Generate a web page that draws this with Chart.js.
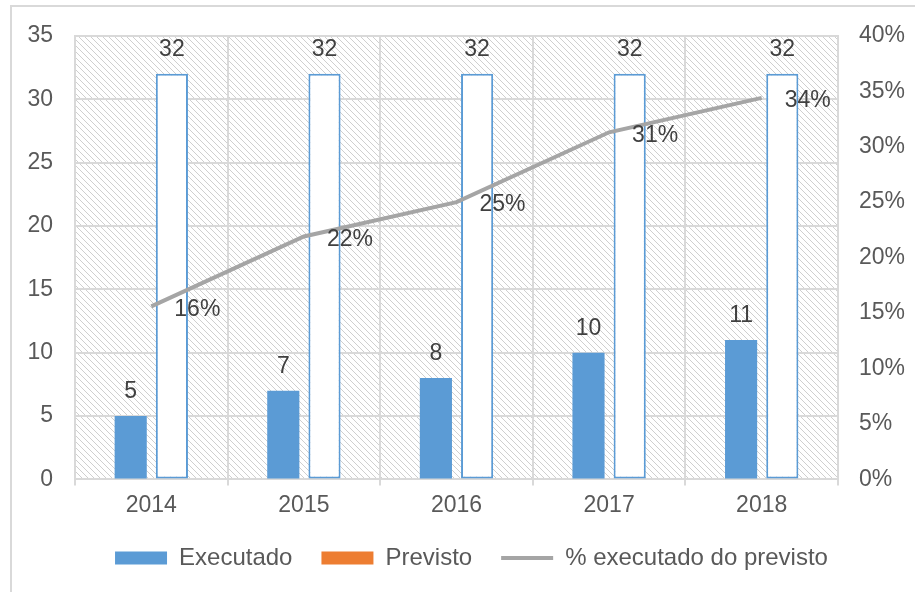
<!DOCTYPE html>
<html lang="pt">
  <head>
    <meta charset="utf-8" />
    <title>Executado vs Previsto</title>
    <style>
      * {
        margin: 0;
        padding: 0;
      }
      body {
        background: #fff;
        overflow: hidden;
        width: 915px;
        height: 592px;
        position: relative;
      }
      .frame {
        position: absolute;
        left: 10px;
        top: 5px;
        width: 1000px;
        height: 700px;
        border-left: 2px solid #d9d9d9;
        border-top: 2px solid #d9d9d9;
      }
      canvas {
        position: absolute;
        left: 0;
        top: -7px;
      }
    </style>
  </head>
  <body>
    <div class="frame">
      <canvas id="myChart" width="919" height="602"></canvas>
    </div>

    <script src="https://cdn.jsdelivr.net/npm/chart.js@4/dist/chart.umd.min.js"></script>

    <script>
      // data block
      const years = ["2014", "2015", "2016", "2017", "2018"];
      const executado = [5, 7, 8, 10, 11];
      const previsto = [32, 32, 32, 32, 32];
      const pctExecutado = [15.6, 21.9, 25, 31.3, 34.4];
      const leftTicks = [0, 5, 10, 15, 20, 25, 30, 35];
      const rightTicks = [0, 5, 10, 15, 20, 25, 30, 35, 40];

      const FONT = "'Liberation Sans', Arial, sans-serif";
      const gridColor = "#d9d9d9";

      // diagonal hatch for the plot area
      function hatchPattern(ctx) {
        const c = document.createElement("canvas");
        c.width = 6;
        c.height = 6;
        const g = c.getContext("2d");
        g.strokeStyle = "#cfcfcf";
        g.lineWidth = 1;
        g.beginPath();
        g.moveTo(-1, -1);
        g.lineTo(7, 7);
        g.moveTo(-1, 5);
        g.lineTo(1, 7);
        g.moveTo(5, -1);
        g.lineTo(7, 1);
        g.stroke();
        return ctx.createPattern(c, "repeat");
      }

      const plotBackground = {
        id: "plotBackground",
        beforeDraw(chart) {
          const { ctx, chartArea: { left, top, width, height } } = chart;
          ctx.save();
          ctx.fillStyle = "#fff";
          ctx.fillRect(left, top, width, height);
          ctx.fillStyle = hatchPattern(ctx);
          ctx.fillRect(left, top, width, height);
          ctx.restore();
        },
      };

      // value labels
      const valueLabels = {
        id: "valueLabels",
        afterDatasetsDraw(chart) {
          const { ctx } = chart;
          ctx.save();
          ctx.font = "23px " + FONT;
          ctx.fillStyle = "#404040";
          chart.data.datasets.forEach((ds, di) => {
            const meta = chart.getDatasetMeta(di);
            meta.data.forEach((el, i) => {
              const v = ds.data[i];
              if (ds.type === "line") {
                ctx.textAlign = "left";
                ctx.textBaseline = "middle";
                ctx.fillText(Math.round(v) + "%", el.x + 23, el.y + 3);
              } else {
                ctx.textAlign = "center";
                ctx.textBaseline = "middle";
                ctx.fillText(v, el.x, el.y - 24);
              }
            });
          });
          ctx.restore();
        },
      };

      const data = {
        labels: years,
        datasets: [
          {
            type: "bar",
            label: "Executado",
            data: executado,
            backgroundColor: "#5b9bd5",
            borderWidth: 0,
            yAxisID: "y",
            order: 1,
            categoryPercentage: 0.54,
            barPercentage: 0.78,
          },
          {
            type: "bar",
            label: "Previsto",
            data: previsto,
            backgroundColor: "#ffffff",
            borderColor: "#5b9bd5",
            borderWidth: 2,
            borderSkipped: false,
            yAxisID: "y",
            order: 1,
            categoryPercentage: 0.54,
            barPercentage: 0.78,
          },
          {
            type: "line",
            label: "% executado do previsto",
            data: pctExecutado,
            borderColor: "#a5a5a5",
            backgroundColor: "#a5a5a5",
            borderWidth: 4,
            pointRadius: 0,
            tension: 0,
            yAxisID: "y1",
            order: 0,
          },
        ],
      };

      const config = {
        data: data,
        options: {
          responsive: false,
          animation: false,
          layout: { padding: { top: 0, right: 0, left: 0, bottom: 22 } },
          plugins: {
            tooltip: { enabled: false },
            legend: {
              position: "bottom",
              labels: {
                usePointStyle: true,
                pointStyleWidth: 52,
                boxHeight: 13,
                padding: 29,
                color: "#595959",
                font: { family: FONT, size: 24 },
                generateLabels(chart) {
                  const items = Chart.defaults.plugins.legend.labels.generateLabels(chart);
                  items.sort((a, b) => a.datasetIndex - b.datasetIndex);
                  items.forEach((it) => {
                    const di = it.datasetIndex;
                    if (di === 1) {
                      it.fillStyle = "#ed7d31";
                      it.strokeStyle = "#ed7d31";
                    }
                    if (di < 2) {
                      it.pointStyle = "rect";
                      it.lineWidth = 0;
                    } else {
                      it.pointStyle = "line";
                      it.lineWidth = 4;
                      it.strokeStyle = "#a5a5a5";
                    }
                  });
                  return items;
                },
              },
            },
          },
          scales: {
            x: {
              offset: true,
              afterFit(scale) {
                scale.height -= 8;
              },
              grid: {
                offset: true,
                color: gridColor,
                lineWidth: 2,
                tickLength: 6,
              },
              border: { color: gridColor, width: 2 },
              ticks: {
                color: "#595959",
                font: { family: FONT, size: 23 },
                padding: 6,
              },
            },
            y: {
              position: "left",
              min: 0,
              max: 35,
              afterBuildTicks(scale) {
                scale.ticks = leftTicks.map((v) => ({ value: v }));
              },
              afterFit(scale) {
                scale.width = 63;
              },
              grid: { color: gridColor, lineWidth: 2, tickLength: 0 },
              border: { color: gridColor, width: 2 },
              ticks: {
                color: "#595959",
                font: { family: FONT, size: 23 },
                padding: 22,
              },
            },
            y1: {
              position: "right",
              min: 0,
              max: 40,
              afterBuildTicks(scale) {
                scale.ticks = rightTicks.map((v) => ({ value: v }));
              },
              afterFit(scale) {
                scale.width = 93;
              },
              grid: { drawOnChartArea: false, tickLength: 0 },
              border: { color: gridColor, width: 2 },
              ticks: {
                color: "#595959",
                font: { family: FONT, size: 23 },
                padding: 21,
                callback: (v) => v + "%",
              },
            },
          },
        },
        plugins: [plotBackground, valueLabels],
      };

      const myChart = new Chart(document.getElementById("myChart"), config);
    </script>
  </body>
</html>
